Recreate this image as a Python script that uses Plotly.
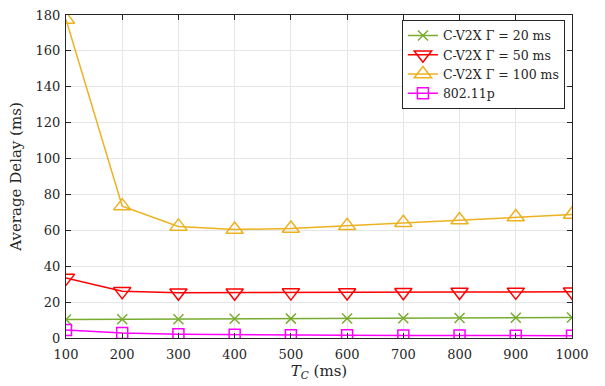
import plotly.graph_objects as go

tc = [100, 200, 300, 400, 500, 600, 700, 800, 900, 1000]
cv2x_20 = [10.3, 10.4, 10.5, 10.7, 10.8, 10.9, 11.0, 11.1, 11.3, 11.4]
cv2x_50 = [33.5, 26.0, 25.2, 25.2, 25.3, 25.4, 25.5, 25.6, 25.7, 25.8]
cv2x_100 = [177.5, 73.5, 62.2, 60.5, 61.0, 62.5, 64.2, 65.8, 67.4, 68.8]
p80211 = [4.5, 2.8, 2.1, 1.8, 1.6, 1.5, 1.4, 1.4, 1.3, 1.3]

names = ["C-V2X Γ = 20 ms", "C-V2X Γ = 50 ms", "C-V2X Γ = 100 ms", "802.11p"]
colors = ["#77AC30", "#FF0000", "#EDB120", "#FF00FF"]
symbols = ["x-thin-open", "triangle-down-open", "triangle-up-open", "square-open"]
sizes = [10, 15, 15, 11]
series = [cv2x_20, cv2x_50, cv2x_100, p80211]

fig = go.Figure()
for name, ys, c, s, sz in zip(names, series, colors, symbols, sizes):
    fig.add_trace(go.Scatter(
        x=tc, y=ys, name=name, mode="lines+markers",
        line=dict(color=c, width=1.5),
        marker=dict(symbol=s, size=sz, color=c, line=dict(color=c, width=1.5)),
    ))

font = "DejaVu Serif"
axis_common = dict(
    showline=True, linecolor="#262626", linewidth=1, mirror="ticks",
    ticks="inside", ticklen=5, tickcolor="#262626",
    showgrid=True, gridcolor="#E6E6E6", gridwidth=1, zeroline=False,
    ticklabeloverflow="allow",
    tickfont=dict(family=font, size=13, color="#262626"),
)
fig.update_xaxes(range=[100, 1000], tickvals=tc, ticklabelstandoff=4, **axis_common,
                 title=dict(text="<i>T</i><sub><i>C</i></sub> (ms)",
                            font=dict(family=font, size=15, color="#262626"), standoff=0))
fig.update_yaxes(range=[0, 180], dtick=20, ticklabelstandoff=2, **axis_common,
                 title=dict(text="Average Delay (ms)",
                            font=dict(family=font, size=15, color="#262626"), standoff=10))

fig.update_layout(
    width=605, height=386,
    margin=dict(l=66, r=33, t=8, b=48),
    plot_bgcolor="white", paper_bgcolor="white",
    font=dict(family=font, size=13, color="#262626"),
    legend=dict(x=0.986, y=0.985, xanchor="right", yanchor="top",
                bgcolor="white", bordercolor="#262626", borderwidth=1,
                font=dict(family=font, size=12.5, color="#262626"),
                tracegroupgap=0, itemwidth=30),
    showlegend=True,
)

fig.write_html("out.html")
